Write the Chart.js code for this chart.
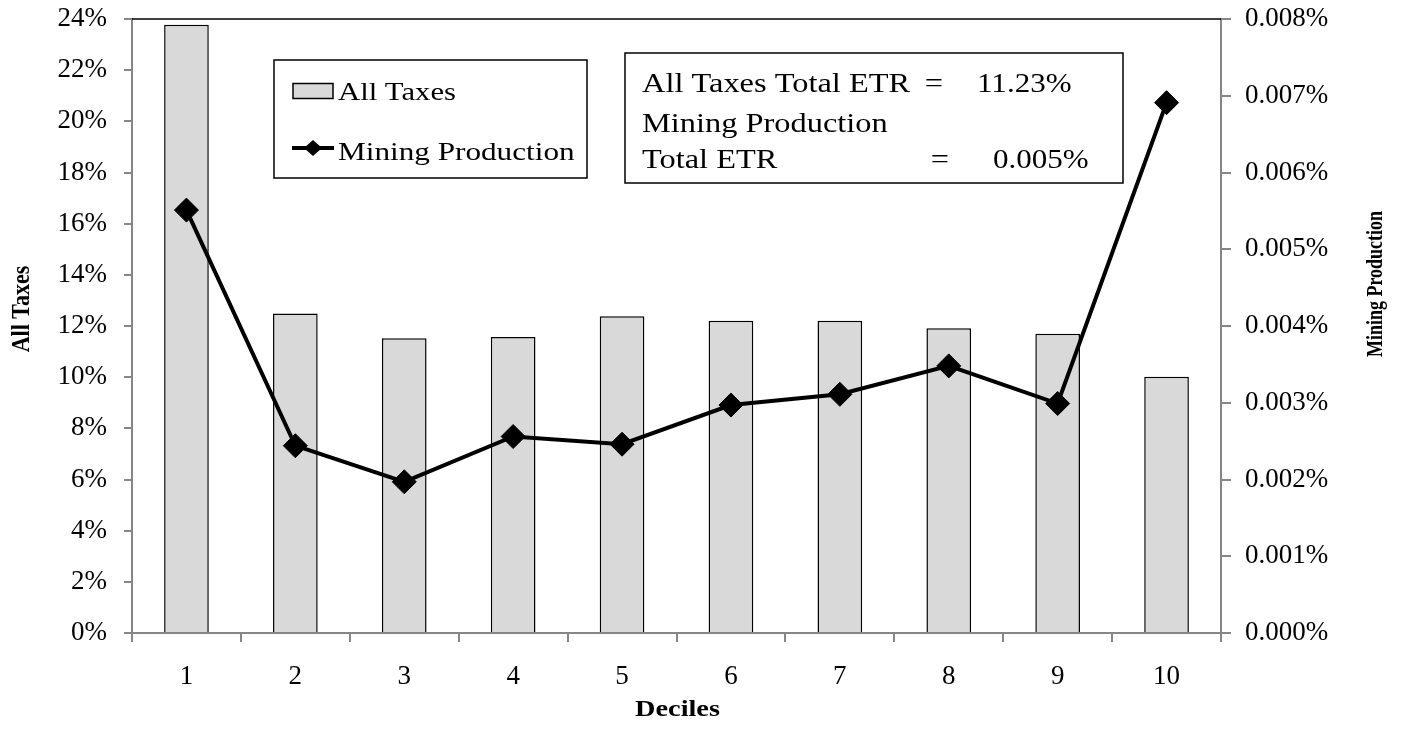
<!DOCTYPE html>
<html>
<head>
<meta charset="utf-8">
<script src="https://cdn.jsdelivr.net/npm/chart.js@4.4.1/dist/chart.umd.min.js"></script>
<style>
  body { margin: 0; background: #fff; }
  #wrap { width: 1402px; height: 734px; position: relative; }
</style>
</head>
<body>
<div id="wrap"><canvas id="etrChart"></canvas></div>
<script>
const deciles = ["1", "2", "3", "4", "5", "6", "7", "8", "9", "10"];
const allTaxes = [23.78, 12.49, 11.52, 11.57, 12.38, 12.21, 12.21, 11.91, 11.70, 10.02];
const miningProduction = [0.00551, 0.00244, 0.00197, 0.00256, 0.00246, 0.00297, 0.00311, 0.00348, 0.00299, 0.00691];
const totalLines = [
  ["All Taxes Total ETR", "=", "11.23%"],
  ["Mining Production", "", ""],
  ["Total ETR", "=", "0.005%"]
];

const serif = '"Liberation Serif", "Times New Roman", serif';
const axisGray = "#868686";

// the reference type is a bit wider than it is tall, so stretch what we draw ourselves
function wideText(c, text, x, y, k, align) {
  c.save();
  c.textAlign = align || "left";
  c.translate(x, y);
  c.scale(k, 1);
  c.fillText(text, 0, 0);
  c.restore();
}

function upText(c, text, x, y, k) {
  c.save();
  c.textAlign = "center";
  c.textBaseline = "middle";
  c.translate(x, y);
  c.rotate(-Math.PI / 2);
  c.scale(1, k);
  c.fillText(text, 0, 0);
  c.restore();
}

const extras = {
  id: "extras",
  afterDraw(chart) {
    const c = chart.ctx;
    const area = chart.chartArea;
    c.save();

    // top border of plot area
    c.strokeStyle = "#000";
    c.lineWidth = 1.5;
    c.beginPath();
    c.moveTo(area.left, area.top);
    c.lineTo(area.right, area.top);
    c.stroke();

    // legend
    const ds = chart.data.datasets;
    c.fillStyle = "#fff";
    c.fillRect(274, 60, 313, 118);
    c.strokeRect(274, 60, 313, 118);

    c.fillStyle = ds[0].backgroundColor;
    c.fillRect(293, 83.5, 40, 15);
    c.strokeRect(293, 83.5, 40, 15);

    c.lineWidth = 4;
    c.beginPath();
    c.moveTo(292, 148);
    c.lineTo(334, 148);
    c.stroke();
    c.fillStyle = "#000";
    c.beginPath();
    c.moveTo(313 - 9, 148);
    c.lineTo(313, 148 - 8);
    c.lineTo(313 + 9, 148);
    c.lineTo(313, 148 + 8);
    c.closePath();
    c.fill();

    c.font = "26px " + serif;
    c.textBaseline = "alphabetic";
    wideText(c, ds[0].label, 338, 100, 1.18);
    wideText(c, ds[1].label, 338, 160, 1.2);

    // total ETR box
    c.lineWidth = 1.5;
    c.fillStyle = "#fff";
    c.fillRect(625, 53, 498, 130);
    c.strokeRect(625, 53, 498, 130);
    c.fillStyle = "#000";
    c.font = "27px " + serif;
    const baselines = [92, 132, 168];
    const eqX = [934, 0, 940];
    const valX = [977, 0, 993];
    totalLines.forEach((ln, i) => {
      wideText(c, ln[0], 642, baselines[i], 1.2);
      if (ln[1]) {
        wideText(c, ln[1], eqX[i], baselines[i], 1.2, "center");
        wideText(c, ln[2], valX[i], baselines[i], 1.15);
      }
    });

    // axis titles
    c.font = "bold 22px " + serif;
    upText(c, "All Taxes", 22, 309, 1.15);
    c.font = "bold 18px " + serif;
    upText(c, "Mining Production", 1376, 284, 1.3);
    c.font = "bold 24px " + serif;
    c.textBaseline = "middle";
    wideText(c, "Deciles", (area.left + area.right) / 2 + 1, 710, 1.18, "center");
    c.restore();
  }
};

// keep tick padding from pushing the plot area down
function trimPad(scale) {
  scale.paddingTop = 10;
  scale.paddingBottom = 10;
}

new Chart(document.getElementById("etrChart"), {
  type: "bar",
  data: {
    labels: deciles,
    datasets: [
      {
        type: "bar",
        label: "All Taxes",
        data: allTaxes,
        yAxisID: "y",
        backgroundColor: "#d9d9d9",
        borderColor: "#000",
        borderWidth: 1.5,
        categoryPercentage: 1,
        barPercentage: 0.41,
        order: 2
      },
      {
        type: "line",
        label: "Mining Production",
        data: miningProduction,
        yAxisID: "y1",
        borderColor: "#000",
        backgroundColor: "#000",
        borderWidth: 4,
        pointStyle: "rectRot",
        pointRadius: 12,
        pointBorderWidth: 1,
        tension: 0,
        order: 1
      }
    ]
  },
  options: {
    responsive: true,
    maintainAspectRatio: false,
    animation: false,
    layout: { padding: { top: 19, left: 0, right: 0, bottom: 0 } },
    plugins: { legend: { display: false }, tooltip: { enabled: false } },
    scales: {
      x: {
        offset: true,
        grid: { offset: true, drawOnChartArea: false, drawTicks: true, tickLength: 9, color: axisGray, lineWidth: 2 },
        border: { color: axisGray, width: 2 },
        ticks: { color: "#000", font: { family: serif, size: 27 }, padding: 19, maxRotation: 0 },
        afterFit(scale) { scale.height = 101; }
      },
      y: {
        position: "left",
        min: 0,
        max: 24,
        grid: { drawOnChartArea: false, drawTicks: true, tickLength: 8, color: axisGray, lineWidth: 2 },
        border: { color: axisGray, width: 2 },
        ticks: { stepSize: 2, color: "#000", font: { family: serif, size: 27 }, padding: 17, callback: v => v + "%" },
        afterFit(scale) { scale.width = 132; trimPad(scale); }
      },
      y1: {
        position: "right",
        min: 0,
        max: 0.008,
        grid: { drawOnChartArea: false, drawTicks: true, tickLength: 10, color: axisGray, lineWidth: 2 },
        border: { color: axisGray, width: 2 },
        ticks: { stepSize: 0.001, color: "#000", font: { family: serif, size: 27 }, padding: 14, callback: v => v.toFixed(3) + "%" },
        afterFit(scale) { scale.width = 181; trimPad(scale); }
      }
    }
  },
  plugins: [extras]
});
</script>
</body>
</html>
